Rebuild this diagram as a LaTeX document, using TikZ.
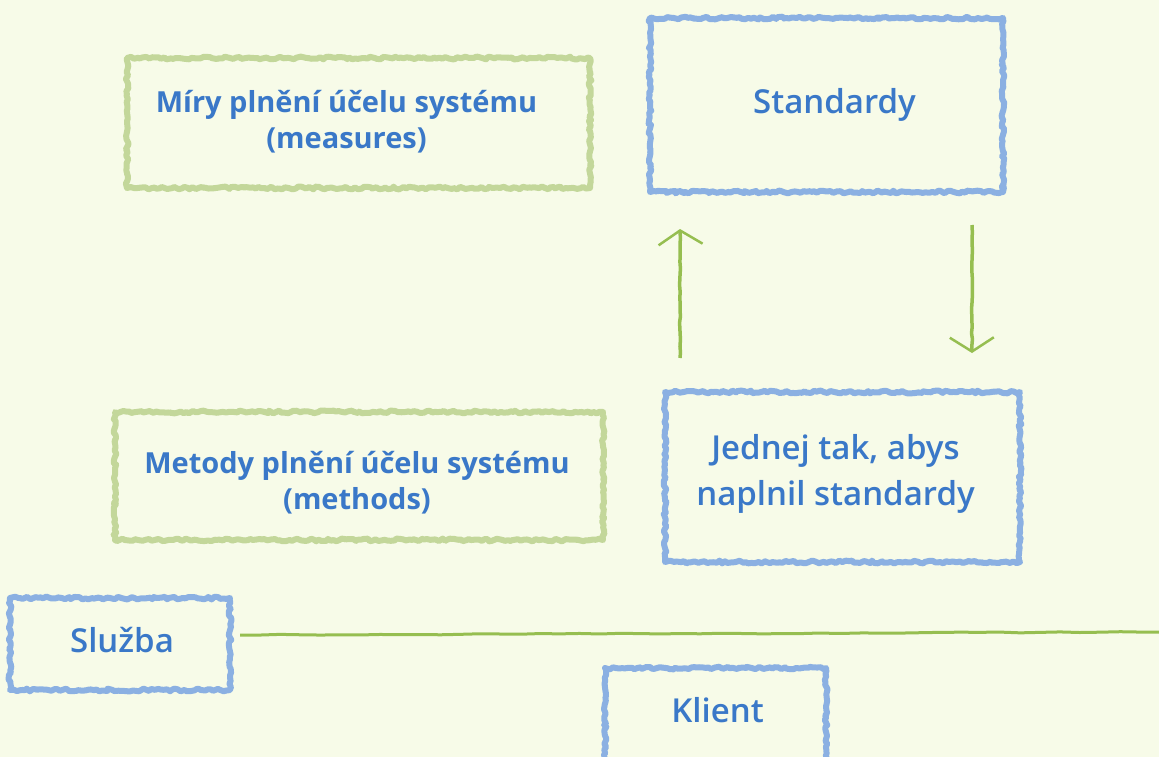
\documentclass[tikz,border=0pt]{standalone}
\usepackage{fontspec}
\setmainfont{Open Sans}
% semibold face for the blue labels, with fallbacks
\IfFontExistsTF{Open Sans SemiBold}{\newfontfamily\semib{Open Sans SemiBold}}{%
  \IfFontExistsTF{Open Sans Semibold}{\newfontfamily\semib{Open Sans Semibold}}{%
    \IfFontExistsTF{Noto Sans SemiBold}{\newfontfamily\semib{Noto Sans SemiBold}}{%
      \newfontfamily\semib[FakeBold=2]{Open Sans}}}}
\usetikzlibrary{decorations.pathmorphing,arrows.meta,calc}
\definecolor{paper}{HTML}{F7FBE8}
\definecolor{ink}{HTML}{3A78C8}
\definecolor{bluerim}{HTML}{8BB0E2}
\definecolor{greenrim}{HTML}{C3D79A}
\definecolor{chalk}{HTML}{96BE50}
\tikzset{
  rough/.style={decorate,decoration={random steps,segment length=3pt,amplitude=1.4pt}},
  box/.style={rough,draw,line width=6pt,line join=round,inner sep=0pt,outer sep=0pt,
    postaction={draw,line width=2pt,decorate,decoration={random steps,segment length=2pt,amplitude=2.2pt}}},
  bluebox/.style={box,draw=bluerim},
  greenbox/.style={box,draw=greenrim},
  bluetext/.style={align=center,text=ink,inner sep=0pt,font=\fontsize{33}{46}\selectfont\semib},
  greentext/.style={align=center,text=ink,inner sep=0pt,font=\fontsize{29}{36}\selectfont\bfseries},
  arr/.style={chalk,line width=3.5pt,-{Straight Barb[length=14pt,width=44pt,line width=2.5pt]},
    decorate,decoration={random steps,segment length=6pt,amplitude=0.5pt}},
  rule/.style={chalk,line width=3pt,decorate,decoration={random steps,segment length=20pt,amplitude=0.5pt}}
}
\begin{document}
\begin{tikzpicture}[x=1pt,y=-1pt]
\pgfmathsetseed{4242}
\fill[paper] (0,0) rectangle (1159,757);
\clip (0,0) rectangle (1159,757);
\useasboundingbox (0,0) rectangle (1159,757);

% frames
\node[greenbox,minimum width=463,minimum height=130] (measures) at (358.5,123) {};
\node[bluebox,minimum width=353,minimum height=174] (std) at (826.5,105) {};
\node[greenbox,minimum width=488,minimum height=128] (methods) at (359,476) {};
\node[bluebox,minimum width=355,minimum height=170] (act) at (842.5,477) {};
\node[bluebox,minimum width=220,minimum height=92] (service) at (120,644) {};
\node[bluebox,minimum width=221,minimum height=110] (client) at (715.5,723) {};

% labels
\node[greentext] (measurestext) at ($(measures.center)+(-12,-1)$) {Míry plnění účelu systému\\(measures)};
\node[bluetext] (stdtext) at ($(std.center)+(8,0)$) {Standardy};
\node[greentext] (methodstext) at ($(methods.center)+(-2,7)$) {Metody plnění účelu systému\\(methods)};
\node[bluetext] (acttext) at ($(act.center)+(-7,-3)$) {Jednej tak, abys\\naplnil standardy};
\node[bluetext] (servicetext) at ($(service.center)+(2,-4)$) {Služba};
\node[bluetext] (clienttext) at ($(client.center)+(2,-13)$) {Klient};

% connectors
\coordinate (ruleend) at (1165,632);
\draw[rule] ($(service.east)+(10,-9)$) -- (ruleend);

\draw[arr] ($(act.north west)+(15,-34)$) -- ($(std.south west)+(30,37)$);
\draw[arr] ($(std.south east)+(-31,33)$) -- ($(act.north east)+(-48,-39)$);
\end{tikzpicture}
\end{document}
